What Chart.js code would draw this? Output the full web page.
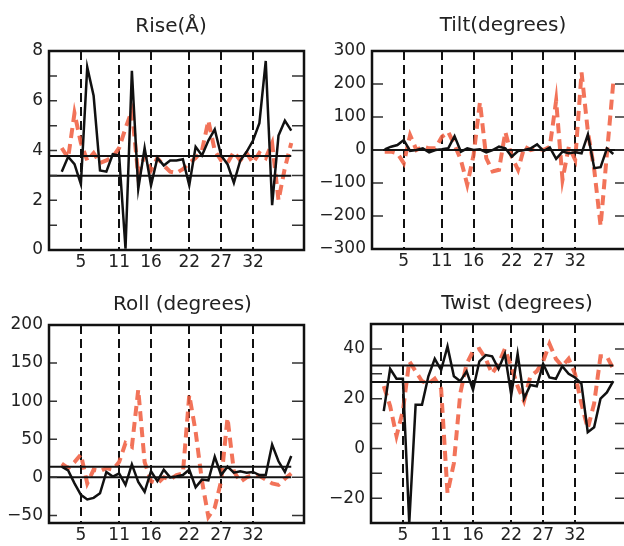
<!DOCTYPE html>
<html><head><meta charset="utf-8">
<script src="https://cdn.jsdelivr.net/npm/chart.js@4"></script>
<style>
html,body{margin:0;padding:0;background:#fff;overflow:hidden;width:624px;height:546px;}
canvas{position:absolute;}
</style></head><body>
<canvas id="c1" width="342" height="273" style="left:0px;top:0px"></canvas>
<canvas id="c3" width="365" height="273" style="left:0px;top:273px"></canvas>
<canvas id="c2" width="382" height="273" style="left:312px;top:0px"></canvas>
<canvas id="c4" width="412" height="273" style="left:311px;top:273px"></canvas>
<script>
// ---- data ----
const residues = [2,3,4,5,6,7,8,9,10,11,12,13,14,15,16,17,18,19,20,21,22,23,24,25,26,27,28,29,30,31,32,33,34,35,36,37,38];
const xTickLabels = [5, 11, 16, 22, 27, 32];

const riseBlack = [3.15,3.75,3.45,2.65,7.35,6.2,3.2,3.15,3.85,3.8,0.05,7.2,2.45,4.1,2.6,3.7,3.4,3.6,3.6,3.65,2.6,4.15,3.8,4.4,4.85,3.8,3.45,2.7,3.6,3.95,4.4,5.1,7.6,1.8,4.6,5.2,4.8];
const riseRed   = [4.1,3.7,5.5,4.3,3.6,3.9,3.5,3.6,3.75,4.1,4.9,5.6,3.0,3.8,3.2,3.7,3.4,3.15,3.1,3.25,3.5,3.7,4.0,5.2,4.0,3.6,3.5,3.95,3.6,3.9,3.5,3.9,3.7,4.3,2.0,3.3,4.3];
const riseRef = [3.78, 2.98];
const riseYTicks = [0,1,2,3,4,5,6,7,8];
const riseYLabels = [0,2,4,6,8];

const tiltBlack = [2,10,15,30,-3,0,5,-7,0,2,5,42,-5,5,0,2,-7,0,10,5,-20,-3,0,5,17,-3,8,-27,-5,-10,-7,-10,47,-55,-52,5,-12];
const tiltRed   = [-5,-5,-10,-40,45,0,10,5,5,40,55,15,-30,-105,-15,145,-25,-65,-60,55,-20,-60,10,0,5,0,10,150,-90,10,-30,235,55,-60,-230,-10,205];
const tiltRef = [0];
const tiltYTicks = [-300,-250,-200,-150,-100,-50,0,50,100,150,200,250,300];
const tiltYLabels = [-300,-200,-100,0,100,200,300];

const rollBlack = [14,9,-8,-23,-29,-27,-21,7,1,5,-10,17,-6,-19,8,-5,10,0,1,3,10,-13,-3,-4,27,3,14,6,8,6,7,3,3,43,21,7,28];
const rollRed   = [18,12,20,30,-8,10,8,12,10,20,45,40,115,20,-5,-8,0,-3,3,5,108,60,-5,-52,-40,-5,78,8,-6,0,3,2,-3,-8,-10,-2,5];
const rollRef = [14, 0];
const rollYTicks = [-50,-25,0,25,50,75,100,125,150,175,200];
const rollYLabels = [-50,0,50,100,150,200];

const twistBlack = [15,32,28,28,-30,17.5,17.5,29,36,31.5,41,29,27,31,23.5,35,37.5,37,32,38,21.5,38,20,25.5,25,34,28.5,28,33,30,28.5,26,6.5,8.5,20,22.5,27];
const twistRed   = [25,17,5,15,35,31,27,26,28,24,-18,-6,22,34,39,40,36,30,34,40,33,25,19,29,31,35,42,36,33,36,30,18,8,18,37,37,32];
const twistRef = [33.3, 26.7];
const twistYTicks = [-20,-10,0,10,20,30,40];
const twistYLabels = [-20,0,20,40];

// ---- drawing ----
Chart.defaults.font.family = "'DejaVu Sans', sans-serif";
Chart.defaults.color = '#222';

const frameTicks = {
  id: 'frameTicks',
  afterDraw(chart, args, o) {
    const {ctx, chartArea: a} = chart;
    const y = chart.scales.y;
    ctx.save();
    ctx.strokeStyle = '#333';
    ctx.lineWidth = 1.5;
    y.ticks.forEach(t => {
      const p = y.getPixelForValue(t.value);
      ctx.beginPath();
      ctx.moveTo(a.left, p); ctx.lineTo(a.left + o.left, p);
      ctx.moveTo(a.right - o.right, p); ctx.lineTo(a.right, p);
      ctx.stroke();
    });
    ctx.strokeStyle = '#111';
    ctx.lineWidth = 2.5;
    ctx.strokeRect(a.left, a.top, a.right - a.left, a.bottom - a.top);
    ctx.restore();
  }
};

const fmt = v => (v < 0 ? '\u2212' + Math.abs(v) : String(v));

function makePanel(id, p) {
  const datasets = [
    {data: residues.map((v, i) => ({x: v, y: p.black[i]})), borderColor: '#111', borderWidth: 2.5, pointRadius: 0, xAxisID: 'x', yAxisID: 'y'},
    ...p.refs.map(r => ({data: [{x: 0, y: r}, {x: p.refEnd, y: r}], borderColor: '#111', borderWidth: 2, pointRadius: 0, xAxisID: 'x', yAxisID: 'y'})),
    {data: residues.map((v, i) => ({x: v, y: p.red[i]})), borderColor: 'rgba(240,96,66,0.88)', borderWidth: 4, borderDash: [10, 6], pointRadius: 0, xAxisID: 'x', yAxisID: 'y'}
  ];
  new Chart(document.getElementById(id), {
    type: 'line',
    data: {datasets},
    options: {
      responsive: false, animation: false, devicePixelRatio: 1,
      layout: {padding: 0},
      plugins: {
        legend: {display: false},
        tooltip: {enabled: false},
        title: {display: true, text: p.title, color: '#222',
                font: {size: 20, lineHeight: 1, weight: 'normal'},
                padding: {top: p.tp, bottom: p.bp}},
        frameTicks: {left: p.tl, right: p.tr}
      },
      scales: {
        x: {type: 'linear', min: 0, max: 40,
            afterBuildTicks: s => { s.ticks = xTickLabels.map(v => ({value: v})); },
            afterFit: s => { s.height = p.xh; },
            grid: {color: '#111', lineWidth: 2, drawTicks: false},
            border: {display: false, dash: [9, 5]},
            ticks: {font: {size: 17}, padding: 2, color: '#222', maxRotation: 0, autoSkip: false}},
        y: {type: 'linear', position: 'left', min: p.min, max: p.max,
            afterBuildTicks: s => { s.ticks = p.yTicks.map(v => ({value: v})); },
            afterFit: s => { s.width = p.yw; },
            grid: {display: false, drawTicks: false},
            border: {display: false},
            ticks: {font: {size: 17}, padding: 6, color: '#222',
                    callback: v => p.yLabels.includes(v) ? fmt(v) : ''}},
        r: {type: 'linear', position: 'right', display: true,
            afterFit: s => { s.width = p.rw; },
            grid: {display: false}, border: {display: false}, ticks: {display: false}}
      }
    },
    plugins: [frameTicks]
  });
}

makePanel('c1', {title: 'Rise(Å)', black: riseBlack, red: riseRed, refs: riseRef, refEnd: 38,
  min: 0, max: 8, yTicks: riseYTicks, yLabels: riseYLabels, tp: 17, bp: 14, xh: 23, yw: 49, rw: 38, tl: 8, tr: 12});
makePanel('c2', {title: 'Tilt(degrees)', black: tiltBlack, red: tiltRed, refs: tiltRef, refEnd: 40,
  min: -300, max: 300, yTicks: tiltYTicks, yLabels: tiltYLabels, tp: 16, bp: 15, xh: 24, yw: 60, rw: 68, tl: 11, tr: 11});
makePanel('c3', {title: 'Roll (degrees)', black: rollBlack, red: rollRed, refs: rollRef, refEnd: 38,
  min: -60, max: 200, yTicks: rollYTicks, yLabels: rollYLabels, tp: 22, bp: 10, xh: 23, yw: 49, rw: 61, tl: 8, tr: 12});
makePanel('c4', {title: 'Twist (degrees)', black: twistBlack, red: twistRed, refs: twistRef, refEnd: 38,
  min: -30, max: 50, yTicks: twistYTicks, yLabels: twistYLabels, tp: 21, bp: 10, xh: 23, yw: 60, rw: 97, tl: 11, tr: 11});
</script>
</body></html>
